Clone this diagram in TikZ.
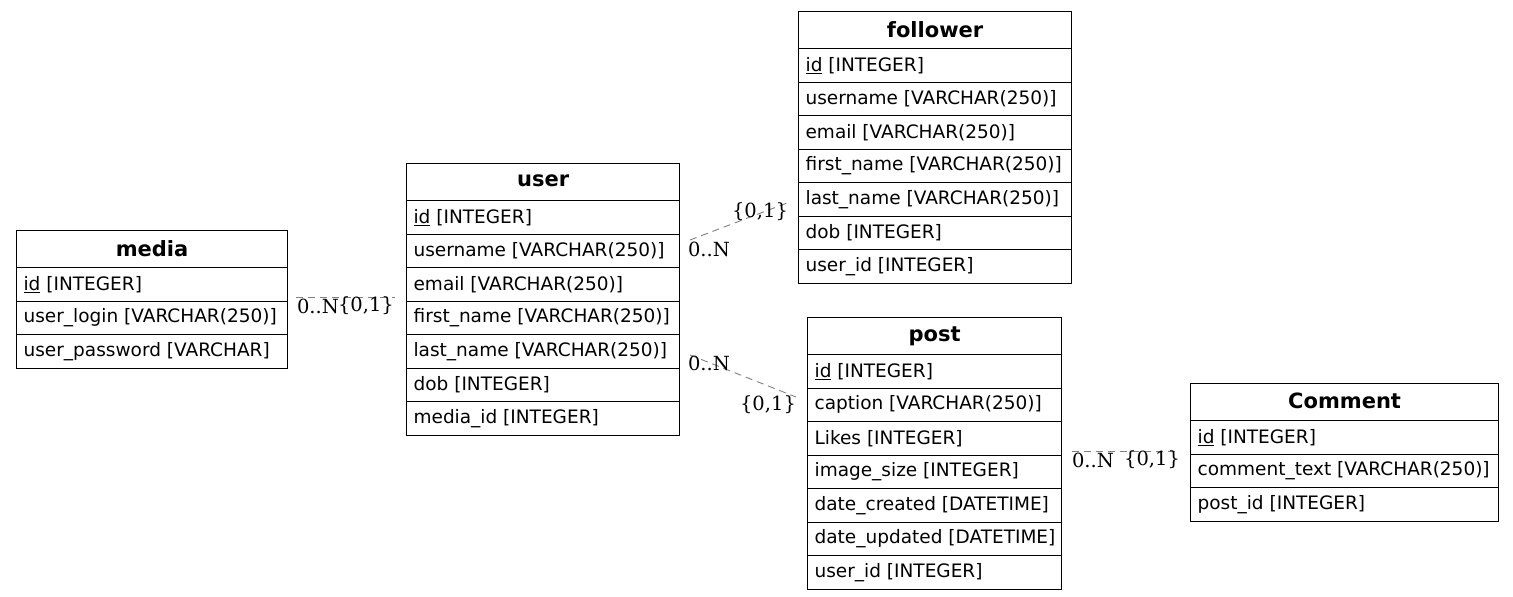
\documentclass[tikz,border=0pt]{standalone}
\usepackage{fontspec}
\setmainfont{DejaVu Sans}
\newfontfamily\lblfont{DejaVu Serif}
\tikzset{
  hdr/.style={draw, line width=1.2pt, minimum height=37pt, inner sep=0pt, anchor=north west,
    font=\fontsize{21}{24}\selectfont\bfseries},
  fld/.style={draw, line width=1.2pt, minimum height=33.5pt, inner xsep=7pt, inner ysep=0pt,
    anchor=north west, font=\fontsize{18.5}{22}\selectfont},
  rel/.style={draw={rgb,255:red,128;green,128;blue,128}, line width=0.9pt, dash pattern=on 7pt off 5pt},
  lbl/.style={inner sep=0pt, font=\lblfont\fontsize{19.5}{22}\selectfont}
}
\newcommand\erTable[6]{%
  \node[hdr, minimum width=#4pt] (#1) at (#2,#3) {\raisebox{2pt}{#5}};
  \pgfmathsetmacro\erTw{#4-14}
  \foreach \t [count=\i] in {#6} {
    \node[fld] (#1-\i) at (#2, #3+37+\i*33.5-33.5) {\raisebox{2pt}{\makebox[\erTw pt][l]{\t}}};
  }
}
\begin{document}
\begin{tikzpicture}[x=1pt,y=-1pt]
\useasboundingbox (0,0) rectangle (1513,597);
\erTable{media}{16}{230}{271}{media}{{\underline{id} [INTEGER]},{user\_login [VARCHAR(250)]},{user\_password [VARCHAR]}}
\erTable{user}{406}{163}{273}{user}{{\underline{id} [INTEGER]},{username [VARCHAR(250)]},{email [VARCHAR(250)]},{first\_name [VARCHAR(250)]},{last\_name [VARCHAR(250)]},{dob [INTEGER]},{media\_id [INTEGER]}}
\erTable{follower}{798}{11}{273}{follower}{{\underline{id} [INTEGER]},{username [VARCHAR(250)]},{email [VARCHAR(250)]},{first\_name [VARCHAR(250)]},{last\_name [VARCHAR(250)]},{dob [INTEGER]},{user\_id [INTEGER]}}
\erTable{post}{807}{317}{254}{post}{{\underline{id} [INTEGER]},{caption [VARCHAR(250)]},{Likes [INTEGER]},{image\_size [INTEGER]},{date\_created [DATETIME]},{date\_updated [DATETIME]},{user\_id [INTEGER]}}
\erTable{comment}{1190}{383}{308}{Comment}{{\underline{id} [INTEGER]},{comment\_text [VARCHAR(250)]},{post\_id [INTEGER]}}

\coordinate (e1s) at (296,297); \coordinate (e1t) at (395,297);
\coordinate (e2s) at (690,240); \coordinate (e2t) at (787,203);
\coordinate (e3s) at (690,355); \coordinate (e3t) at (796,397);
\coordinate (e4s) at (1072,451); \coordinate (e4t) at (1180,451);
\draw[rel] (e1s) -- (e1t);
\draw[rel] (e2s) -- (e2t);
\draw[rel] (e3s) -- (e3t);
\draw[rel] (e4s) -- (e4t);
\node[lbl] (l1a) at (318,306) {0..N};
\node[lbl] (l1b) at (366,306) {\{0,1\}};
\node[lbl] (l2a) at (709,249) {0..N};
\node[lbl] (l2b) at (760,212) {\{0,1\}};
\node[lbl] (l3a) at (709,363) {0..N};
\node[lbl] (l3b) at (768,405) {\{0,1\}};
\node[lbl] (l4a) at (1093,460) {0..N};
\node[lbl] (l4b) at (1152,460) {\{0,1\}};
\end{tikzpicture}
\end{document}
